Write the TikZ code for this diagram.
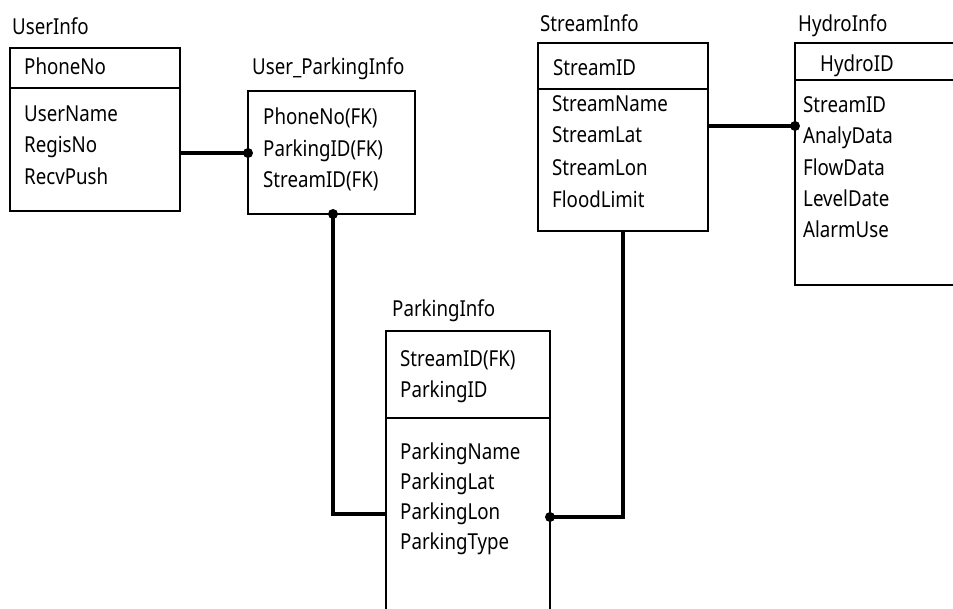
\documentclass[tikz,border=0pt]{standalone}
\usepackage{fontspec}
\setmainfont[FakeStretch=0.85]{Noto Sans}
\begin{document}
\begin{tikzpicture}[x=1pt,y=-1pt,
  tbl/.style={draw,line width=2.6pt,anchor=north west,inner sep=0pt,outer sep=0pt},
  rule/.style={line width=2.6pt},
  txt/.style={anchor=base west,inner sep=0pt,font=\fontsize{22}{26}\selectfont},
  conn/.style={line width=3.8pt},
  dot/.style={circle,fill,inner sep=0pt,minimum size=10pt}]
\clip (0,0) rectangle (953,609);

% ---------- tables ----------
\node[tbl,minimum width=170pt,minimum height=163pt] (ui)  at (10,48)  {};
\node[tbl,minimum width=167pt,minimum height=123pt] (upi) at (248,91) {};
\node[tbl,minimum width=170pt,minimum height=188pt] (si)  at (538,43) {};
\node[tbl,minimum width=175pt,minimum height=242pt] (hi)  at (795,43) {};
\node[tbl,minimum width=164pt,minimum height=300pt] (pi)  at (386,331) {};

% header separators
\draw[rule] ([yshift=-40pt]ui.north west) -- ([yshift=-40pt]ui.north east);
\draw[rule] ([yshift=-46pt]si.north west) -- ([yshift=-46pt]si.north east);
\draw[rule] ([yshift=-37pt]hi.north west) -- ([yshift=-37pt]hi.north east);
\draw[rule] ([yshift=-87pt]pi.north west) -- ([yshift=-87pt]pi.north east);

% ---------- UserInfo ----------
\node[txt] (ui-title) at (12,35)  {UserInfo};
\node[txt] (ui-k)     at (24,75)  {PhoneNo};
\node[txt] (ui-a1)    at (24,122) {UserName};
\node[txt] (ui-a2)    at (24,153) {RegisNo};
\node[txt] (ui-a3)    at (24,185) {RecvPush};

% ---------- User_ParkingInfo ----------
\node[txt] (upi-title) at (252,75)  {User\_ParkingInfo};
\node[txt] (upi-a1)    at (263,125) {PhoneNo(FK)};
\node[txt] (upi-a2)    at (263,157) {ParkingID(FK)};
\node[txt] (upi-a3)    at (263,188) {StreamID(FK)};

% ---------- StreamInfo ----------
\node[txt] (si-title) at (540,32)  {StreamInfo};
\node[txt] (si-k)     at (553,76)  {StreamID};
\node[txt] (si-a1)    at (552,112) {StreamName};
\node[txt] (si-a2)    at (552,143) {StreamLat};
\node[txt] (si-a3)    at (552,176) {StreamLon};
\node[txt] (si-a4)    at (552,208) {FloodLimit};

% ---------- HydroInfo ----------
\node[txt] (hi-title) at (798,32)  {HydroInfo};
\node[txt] (hi-k)     at (820,72)  {HydroID};
\node[txt] (hi-a1)    at (803,113) {StreamID};
\node[txt] (hi-a2)    at (803,144) {AnalyData};
\node[txt] (hi-a3)    at (803,176) {FlowData};
\node[txt] (hi-a4)    at (803,207) {LevelDate};
\node[txt] (hi-a5)    at (803,238) {AlarmUse};

% ---------- ParkingInfo ----------
\node[txt] (pi-title) at (392,317) {ParkingInfo};
\node[txt] (pi-k1)    at (400,367) {StreamID(FK)};
\node[txt] (pi-k2)    at (400,398) {ParkingID};
\node[txt] (pi-a1)    at (400,459) {ParkingName};
\node[txt] (pi-a2)    at (400,489) {ParkingLat};
\node[txt] (pi-a3)    at (400,519) {ParkingLon};
\node[txt] (pi-a4)    at (400,549) {ParkingType};

% ---------- relationships ----------
\node[dot] (d1) at (upi.west |- 0,153) {};
\draw[conn] (ui.east |- d1) -- (d1.center);

\node[dot] (d2) at (upi.south -| 333,0) {};
\draw[conn] (d2.center) |- (pi.west |- 0,514);

\node[dot] (d3) at (pi.east |- 0,517) {};
\draw[conn] (d3.center) -| (si.south -| 623,0);

\node[dot] (d4) at (hi.west |- 0,126) {};
\draw[conn] (si.east |- d4) -- (d4.center);
\end{tikzpicture}
\end{document}
